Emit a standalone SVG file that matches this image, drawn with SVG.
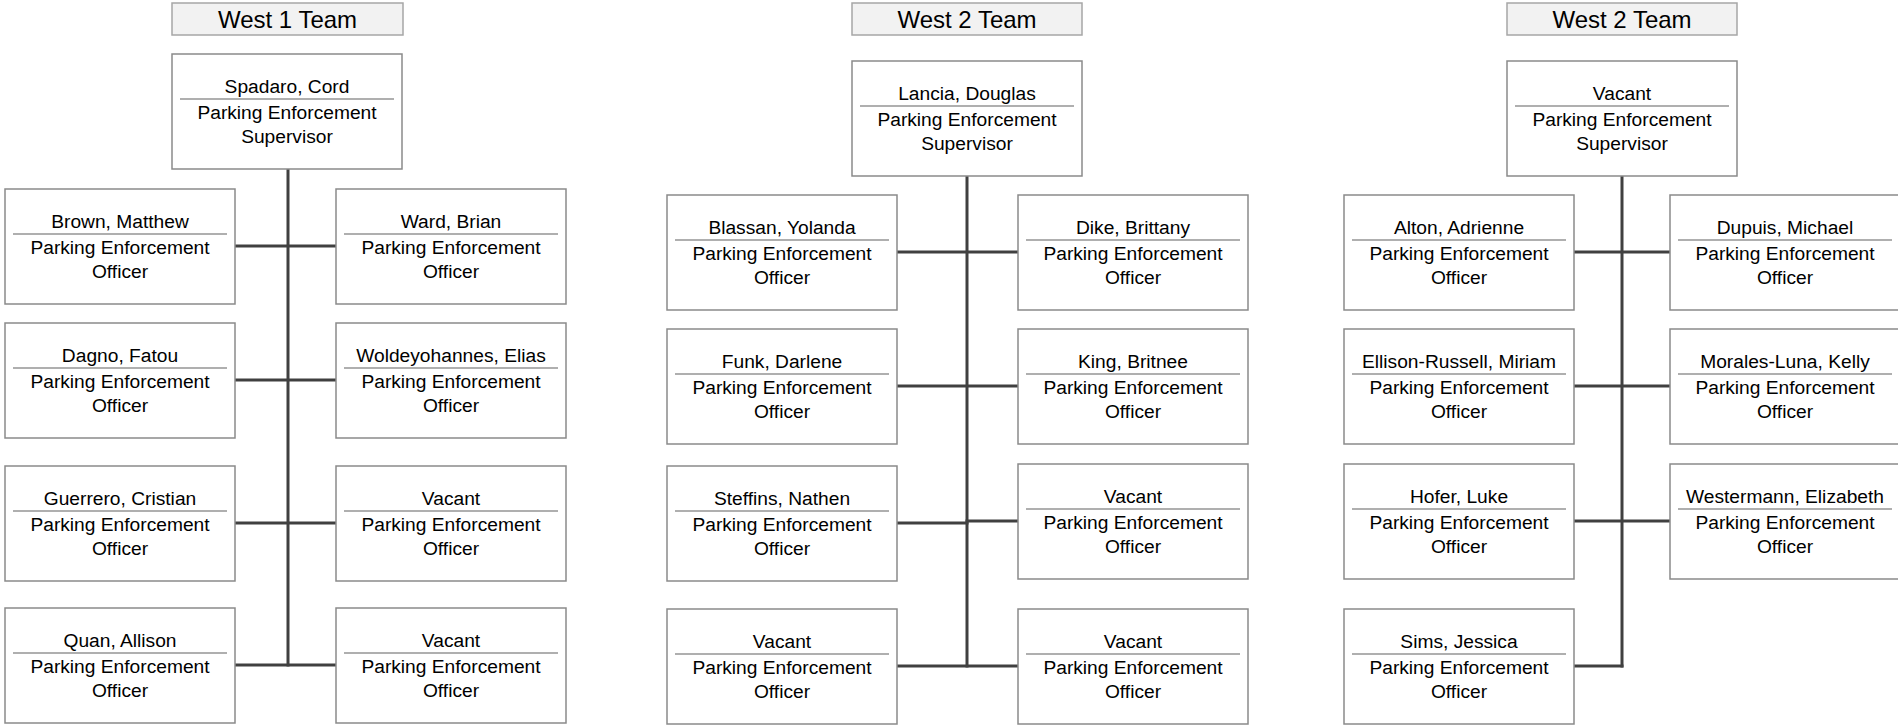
<svg xmlns="http://www.w3.org/2000/svg" width="1898" height="725" viewBox="0 0 1898 725">
<style>
  .title rect{fill:#f2f2f2;stroke:#a6a6a6;stroke-width:1.5}
  .title text{font-family:"Liberation Sans",Arial,sans-serif;font-size:24px;fill:#000;text-anchor:middle}
  .node text{font-family:"Liberation Sans",Arial,sans-serif;font-size:19.2px;fill:#000;text-anchor:middle}
  .conn line{stroke:#404040;stroke-width:3;stroke-linecap:square}
</style>
<defs>
  <g id="box">
    <rect x="0" y="0" width="230" height="115" fill="#ffffff" stroke="#8a8a8a" stroke-width="1.5"/>
    <line x1="8" y1="45" x2="222" y2="45" stroke="#606060" stroke-width="1.2"/>
  </g>
</defs>
<rect x="0" y="0" width="1898" height="725" fill="#ffffff"/>

<g id="connectors" class="conn">
  <line x1="288" y1="170" x2="288" y2="665"/>
  <line x1="236" y1="246" x2="336" y2="246"/>
  <line x1="236" y1="380" x2="336" y2="380"/>
  <line x1="236" y1="523" x2="336" y2="523"/>
  <line x1="236" y1="665" x2="336" y2="665"/>
  <line x1="967" y1="177" x2="967" y2="666"/>
  <line x1="898" y1="252" x2="1018" y2="252"/>
  <line x1="898" y1="386" x2="1018" y2="386"/>
  <line x1="898" y1="523" x2="967" y2="523"/>
  <line x1="967" y1="521" x2="1018" y2="521"/>
  <line x1="898" y1="666" x2="1018" y2="666"/>
  <line x1="1622" y1="177" x2="1622" y2="666"/>
  <line x1="1575" y1="252" x2="1670" y2="252"/>
  <line x1="1575" y1="386" x2="1670" y2="386"/>
  <line x1="1575" y1="521" x2="1670" y2="521"/>
  <line x1="1575" y1="666" x2="1622" y2="666"/>
</g>

<g id="title-west1" class="title"><rect x="172" y="3" width="231" height="32"/><text x="287.5" y="27.5">West 1 Team</text></g>
<g id="title-west2a" class="title"><rect x="852" y="3" width="230" height="32"/><text x="967" y="27.5">West 2 Team</text></g>
<g id="title-west2b" class="title"><rect x="1507" y="3" width="230" height="32"/><text x="1622" y="27.5">West 2 Team</text></g>

<g id="spadaro" class="node" transform="translate(172,54)"><use href="#box"/><text x="115" y="39">Spadaro, Cord</text><text x="115" y="65">Parking Enforcement</text><text x="115" y="89">Supervisor</text></g>
<g id="brown" class="node" transform="translate(5,189)"><use href="#box"/><text x="115" y="39">Brown, Matthew</text><text x="115" y="65">Parking Enforcement</text><text x="115" y="89">Officer</text></g>
<g id="ward" class="node" transform="translate(336,189)"><use href="#box"/><text x="115" y="39">Ward, Brian</text><text x="115" y="65">Parking Enforcement</text><text x="115" y="89">Officer</text></g>
<g id="dagno" class="node" transform="translate(5,323)"><use href="#box"/><text x="115" y="39">Dagno, Fatou</text><text x="115" y="65">Parking Enforcement</text><text x="115" y="89">Officer</text></g>
<g id="woldeyohannes" class="node" transform="translate(336,323)"><use href="#box"/><text x="115" y="39">Woldeyohannes, Elias</text><text x="115" y="65">Parking Enforcement</text><text x="115" y="89">Officer</text></g>
<g id="guerrero" class="node" transform="translate(5,466)"><use href="#box"/><text x="115" y="39">Guerrero, Cristian</text><text x="115" y="65">Parking Enforcement</text><text x="115" y="89">Officer</text></g>
<g id="w1-vacant1" class="node" transform="translate(336,466)"><use href="#box"/><text x="115" y="39">Vacant</text><text x="115" y="65">Parking Enforcement</text><text x="115" y="89">Officer</text></g>
<g id="quan" class="node" transform="translate(5,608)"><use href="#box"/><text x="115" y="39">Quan, Allison</text><text x="115" y="65">Parking Enforcement</text><text x="115" y="89">Officer</text></g>
<g id="w1-vacant2" class="node" transform="translate(336,608)"><use href="#box"/><text x="115" y="39">Vacant</text><text x="115" y="65">Parking Enforcement</text><text x="115" y="89">Officer</text></g>

<g id="lancia" class="node" transform="translate(852,61)"><use href="#box"/><text x="115" y="39">Lancia, Douglas</text><text x="115" y="65">Parking Enforcement</text><text x="115" y="89">Supervisor</text></g>
<g id="blassan" class="node" transform="translate(667,195)"><use href="#box"/><text x="115" y="39">Blassan, Yolanda</text><text x="115" y="65">Parking Enforcement</text><text x="115" y="89">Officer</text></g>
<g id="dike" class="node" transform="translate(1018,195)"><use href="#box"/><text x="115" y="39">Dike, Brittany</text><text x="115" y="65">Parking Enforcement</text><text x="115" y="89">Officer</text></g>
<g id="funk" class="node" transform="translate(667,329)"><use href="#box"/><text x="115" y="39">Funk, Darlene</text><text x="115" y="65">Parking Enforcement</text><text x="115" y="89">Officer</text></g>
<g id="king" class="node" transform="translate(1018,329)"><use href="#box"/><text x="115" y="39">King, Britnee</text><text x="115" y="65">Parking Enforcement</text><text x="115" y="89">Officer</text></g>
<g id="steffins" class="node" transform="translate(667,466)"><use href="#box"/><text x="115" y="39">Steffins, Nathen</text><text x="115" y="65">Parking Enforcement</text><text x="115" y="89">Officer</text></g>
<g id="w2-vacant1" class="node" transform="translate(1018,464)"><use href="#box"/><text x="115" y="39">Vacant</text><text x="115" y="65">Parking Enforcement</text><text x="115" y="89">Officer</text></g>
<g id="w2-vacant2" class="node" transform="translate(667,609)"><use href="#box"/><text x="115" y="39">Vacant</text><text x="115" y="65">Parking Enforcement</text><text x="115" y="89">Officer</text></g>
<g id="w2-vacant3" class="node" transform="translate(1018,609)"><use href="#box"/><text x="115" y="39">Vacant</text><text x="115" y="65">Parking Enforcement</text><text x="115" y="89">Officer</text></g>

<g id="w3-sup-vacant" class="node" transform="translate(1507,61)"><use href="#box"/><text x="115" y="39">Vacant</text><text x="115" y="65">Parking Enforcement</text><text x="115" y="89">Supervisor</text></g>
<g id="alton" class="node" transform="translate(1344,195)"><use href="#box"/><text x="115" y="39">Alton, Adrienne</text><text x="115" y="65">Parking Enforcement</text><text x="115" y="89">Officer</text></g>
<g id="dupuis" class="node" transform="translate(1670,195)"><use href="#box"/><text x="115" y="39">Dupuis, Michael</text><text x="115" y="65">Parking Enforcement</text><text x="115" y="89">Officer</text></g>
<g id="ellison-russell" class="node" transform="translate(1344,329)"><use href="#box"/><text x="115" y="39">Ellison-Russell, Miriam</text><text x="115" y="65">Parking Enforcement</text><text x="115" y="89">Officer</text></g>
<g id="morales-luna" class="node" transform="translate(1670,329)"><use href="#box"/><text x="115" y="39">Morales-Luna, Kelly</text><text x="115" y="65">Parking Enforcement</text><text x="115" y="89">Officer</text></g>
<g id="hofer" class="node" transform="translate(1344,464)"><use href="#box"/><text x="115" y="39">Hofer, Luke</text><text x="115" y="65">Parking Enforcement</text><text x="115" y="89">Officer</text></g>
<g id="westermann" class="node" transform="translate(1670,464)"><use href="#box"/><text x="115" y="39">Westermann, Elizabeth</text><text x="115" y="65">Parking Enforcement</text><text x="115" y="89">Officer</text></g>
<g id="sims" class="node" transform="translate(1344,609)"><use href="#box"/><text x="115" y="39">Sims, Jessica</text><text x="115" y="65">Parking Enforcement</text><text x="115" y="89">Officer</text></g>
</svg>
